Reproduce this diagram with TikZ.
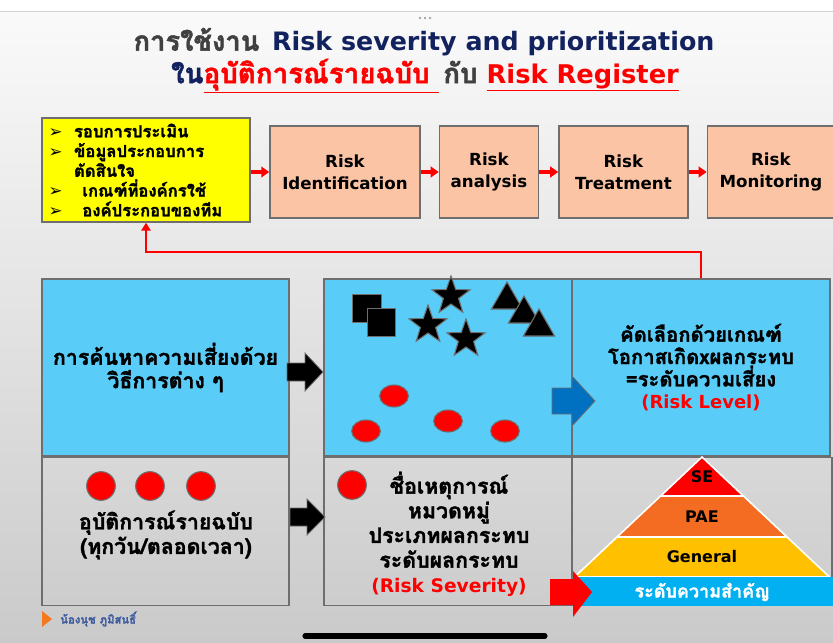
\documentclass[tikz,border=0pt]{standalone}
\usepackage{fontspec}
\setmainfont{DejaVu Sans}
\newfontfamily\latin{DejaVu Sans}
\newfontfamily\thai[Script=Thai, BoldFeatures={FakeBold=1.6}]{Loma}
\usetikzlibrary{arrows.meta,positioning,shapes.geometric}
\definecolor{navy}{RGB}{18,34,94}
\definecolor{titlegray}{RGB}{64,64,64}
\definecolor{alarmred}{RGB}{255,0,0}
\definecolor{peach}{RGB}{250,196,165}
\definecolor{skyblue}{RGB}{90,204,248}
\definecolor{boxline}{RGB}{110,110,110}
\definecolor{notepad}{RGB}{255,255,0}
\definecolor{sebox}{RGB}{255,0,0}
\definecolor{paebox}{RGB}{243,108,33}
\definecolor{genbox}{RGB}{255,192,0}
\definecolor{bandblue}{RGB}{0,176,240}
\definecolor{pushblue}{RGB}{0,112,192}
\definecolor{authorblue}{RGB}{63,92,158}
\definecolor{marker}{RGB}{244,121,32}
\definecolor{bgtop}{RGB}{250,250,250}
\definecolor{bgbottom}{RGB}{202,202,202}
\tikzset{
  procbox/.style={draw=boxline, fill=peach, line width=1.1pt, align=center, minimum height=69pt, inner sep=2pt, font=\bfseries\fontsize{12.5}{16.5}\selectfont},
  bluebox/.style={draw=boxline, fill=skyblue, line width=1.1pt, minimum height=133pt, align=center, font=\thai\bfseries\fontsize{16}{17.5}\selectfont},
  greybox/.style={draw=boxline, line width=1.1pt, minimum height=111pt},
  thaitext/.style={align=center, inner sep=0pt, font=\thai\bfseries\fontsize{16}{18.5}\selectfont},
  pyrlabel/.style={font=\bfseries\fontsize{12}{14}\selectfont, inner sep=0pt},
  flow/.style={-{Triangle[length=6pt,width=8pt]}, line width=2.6pt, draw=alarmred},
  feedback/.style={-{Triangle[length=6pt,width=7pt]}, line width=1.8pt, draw=alarmred},
  dotball/.style={circle, fill=alarmred, draw=boxline, line width=0.8pt, minimum size=21.5pt, inner sep=0pt},
  blob/.style={ellipse, fill=alarmred, draw=boxline, line width=0.8pt, minimum width=21.5pt, minimum height=16.5pt, inner sep=0pt},
  starmark/.style={star, star points=5, star point ratio=2.5, fill=black, draw=boxline, line width=0.8pt, minimum size=30pt, inner sep=0pt},
  squaremark/.style={rectangle, fill=black, draw=boxline, line width=0.8pt, minimum size=21.5pt, inner sep=0pt},
  trimark/.style={regular polygon, regular polygon sides=3, fill=black, draw=boxline, line width=0.8pt, minimum size=27pt, inner sep=0pt},
  blockarrow/.style={draw=boxline, line width=0.6pt}
}
\newcommand{\bul}{\makebox[19pt][l]{\latin ➢}}

\begin{document}
\begin{tikzpicture}[x=0.75pt, y=-0.75pt]
\useasboundingbox (0,0) rectangle (833,643);
% slide background
\fill[white] (0,0) rectangle (833,11);
\shade[top color=bgtop, bottom color=bgbottom] (0,11) rectangle (833,643);
\draw[gray!35] (0,11) -- (833,11);
\foreach \dx in {-5,0,5} \fill[gray!70] (425+\dx,18) circle (1.4);
\draw[black, line width=3.8pt, line cap=round] (305,636) -- (545,636);

% title
\node[font=\bfseries\fontsize{19}{22}\selectfont] (title1) at (424,42)
  {{\color{titlegray}\thai\fontsize{20.5}{22}\selectfont การใช้งาน}\enspace{\color{navy}Risk severity and prioritization}};
\node[font=\bfseries\fontsize{19.3}{22}\selectfont] (title2) at (425,76)
  {{\color{navy}\thai\fontsize{20.8}{22}\selectfont ใน}{\color{alarmred}\underline{\thai\fontsize{20.8}{22}\selectfont อุบัติการณ์รายฉบับ\ }}\,{\color{titlegray}\thai\fontsize{20.8}{22}\selectfont กับ}\ {\color{alarmred}\underline{Risk Register}}};

% process row
\node[draw=boxline, fill=notepad, line width=1.1pt, minimum width=156pt, minimum height=78pt, text width=146pt, inner xsep=5pt, inner ysep=2pt, align=left,
  font=\thai\bfseries\fontsize{12.5}{14.8}\selectfont] (inputs) at (146,170)
  {\bul รอบการประเมิน\\ \bul ข้อมูลประกอบการ\\ \hspace*{19pt}ตัดสินใจ\\ \bul\, เกณฑ์ที่องค์กรใช้\\ \bul\, องค์ประกอบของทีม};
\node[procbox, minimum width=112.5pt] (ident) at (345,172) {Risk\\Identification};
\node[procbox, minimum width=74.25pt, right=13.5pt of ident] (analysis) {Risk\\analysis};
\node[procbox, minimum width=96.75pt, right=14.25pt of analysis] (treat) {Risk\\Treatment};
\node[procbox, minimum width=95.25pt, right=13.5pt of treat] (monitor) {Risk\\Monitoring};
\draw[flow] (inputs.east |- ident.west) -- (ident.west);
\draw[flow] (ident) -- (analysis);
\draw[flow] (analysis) -- (treat);
\draw[flow] (treat) -- (monitor);

% lower grid
\node[bluebox, minimum width=185.25pt] (search) at (165.5,367.5) {การค้นหาความเสี่ยงด้วย\\วิธีการต่าง ๆ};
\node[bluebox, minimum width=186pt] (hazards) at (448,367.5) {};
\node[bluebox, minimum width=193.5pt, font=\thai\bfseries\fontsize{15.2}{16.8}\selectfont] (level) at (701,367.5)
  {คัดเลือกด้วยเกณฑ์\\โอกาสเกิดxผลกระทบ\\=ระดับความเสี่ยง\\{\latin\fontsize{13.5}{16}\selectfont\color{alarmred}(Risk Level)}};
\node[greybox, minimum width=185.25pt, below=0pt of search] (incident) {};
\node[greybox, minimum width=186pt, below=0pt of hazards] (severity) {};
\node[greybox, minimum width=195pt, anchor=north west] (priority) at (level.south west) {};

\draw[feedback] (level.north) -- ++(0,-26) -| (inputs.south);

% hazard shapes
\node[squaremark] (sq1) at (367,308.5) {};
\node[squaremark] (sq2) at (381.5,322.5) {};
\node[starmark] (st1) at (451,296) {};
\node[starmark] (st2) at (428,325) {};
\node[starmark] (st3) at (466,339) {};
\node[trimark] (tr1) at (507,300) {};
\node[trimark] (tr2) at (524,314) {};
\node[trimark] (tr3) at (539,327) {};
\node[blob] (ev1) at (394,396) {};
\node[blob] (ev2) at (448,421) {};
\node[blob] (ev3) at (366,431) {};
\node[blob] (ev4) at (505,431) {};

% incident column
\node[dotball] (dot1) at (101,486) {};
\node[dotball] (dot2) at (150,486) {};
\node[dotball] (dot3) at (201,486) {};
\node[thaitext] (incidenttext) at (166,535) {อุบัติการณ์รายฉบับ\\(ทุกวัน/ตลอดเวลา)};
\node[dotball] (dot4) at (352,485) {};
\node[thaitext] (severitytext) at (449,534)
  {ชื่อเหตุการณ์\\หมวดหมู่\\ประเภทผลกระทบ\\ระดับผลกระทบ\\{\latin\fontsize{14}{16}\selectfont\color{alarmred}(Risk Severity)}};

% block arrows
\fill[black, blockarrow] (287,363) -- (305,363) -- (305,353) -- (323,372) -- (305,391) -- (305,381) -- (287,381) -- cycle;
\fill[black, blockarrow] (290,508) -- (307,508) -- (307,499) -- (325,517) -- (307,535) -- (307,526) -- (290,526) -- cycle;
\fill[pushblue, blockarrow] (552,388) -- (572,388) -- (572,376) -- (595,401) -- (572,426) -- (572,414) -- (552,414) -- cycle;

% priority pyramid
\fill[sebox, draw=white, line width=1.2pt] (702,457) -- (743.4,496) -- (660.6,496) -- cycle;
\fill[paebox, draw=white, line width=1.2pt] (660.6,496) -- (743.4,496) -- (787,537) -- (617,537) -- cycle;
\fill[genbox, draw=white, line width=1.2pt] (617,537) -- (787,537) -- (829.5,577) -- (574.5,577) -- cycle;
\node[pyrlabel] (se) at (702,477) {SE};
\node[pyrlabel] (pae) at (702,517) {PAE};
\node[pyrlabel] (general) at (702,557) {General};
\fill[bandblue] (575,577) rectangle (833,606);
\node[font=\thai\bfseries\fontsize{13.5}{15}\selectfont, text=white, inner sep=0pt] (band) at (702,592) {ระดับความสำคัญ};
\fill[alarmred] (550,579) -- (573,579) -- (573,571) -- (592,592) -- (573,617) -- (573,605) -- (550,605) -- cycle;

% footer
\fill[marker] (42,611) -- (52,619) -- (42,627) -- cycle;
\node[anchor=west, inner sep=0pt, text=authorblue, font=\thai\bfseries\fontsize{8.5}{10}\selectfont] (author) at (60,619) {น้องนุช ภูมิสนธิ์};
\end{tikzpicture}
\end{document}
